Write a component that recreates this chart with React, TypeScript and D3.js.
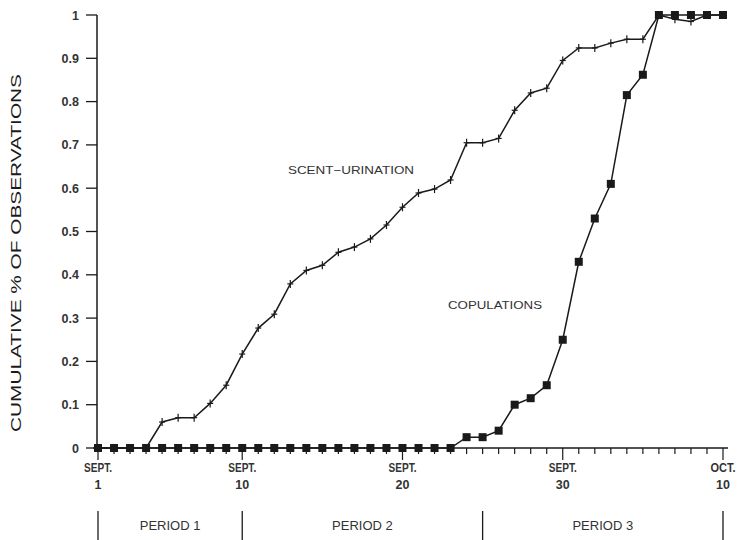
import React from "react";
import * as d3 from "d3";

const days = [1,2,3,4,5,6,7,8,9,10,11,12,13,14,15,16,17,18,19,20,21,22,23,24,25,26,27,28,29,30,31,32,33,34,35,36,37,38,39,40];
const scentUrination = [0,0,0,0,0.06,0.07,0.07,0.103,0.145,0.217,0.277,0.309,0.379,0.41,0.422,0.452,0.464,0.483,0.515,0.556,0.589,0.598,0.619,0.705,0.705,0.715,0.78,0.82,0.831,0.895,0.924,0.924,0.935,0.944,0.944,1.0,0.99,0.985,1.0,1.0];
const copulations = [0,0,0,0,0,0,0,0,0,0,0,0,0,0,0,0,0,0,0,0,0,0,0,0.025,0.025,0.04,0.1,0.115,0.145,0.25,0.43,0.53,0.61,0.815,0.862,1,1,1,1,1];
const yTicks = [0,0.1,0.2,0.3,0.4,0.5,0.6,0.7,0.8,0.9,1];
const yTickLabels = ["0","0.1","0.2","0.3","0.4","0.5","0.6","0.7","0.8","0.9","1"];
const majorDays = [1,10,20,30,40];
const majorLine1 = ["SEPT.","SEPT.","SEPT.","SEPT.","OCT."];
const majorLine2 = ["1","10","20","30","10"];
const periodBounds = [1,10,25,40];
const periodLabels = ["PERIOD 1","PERIOD 2","PERIOD 3"];

const INK = "#1a1a1a";
const FONT = "'Liberation Sans', Arial, sans-serif";

export default function App() {
  const x = d3.scaleLinear().domain([1, 40]).range([98, 723]);
  const y = d3.scaleLinear().domain([0, 1]).range([448, 15]);
  const line = d3.line<number>().x((_, i) => x(days[i])).y((v) => y(v));

  return (
    <svg width={741} height={540} style={{ position: "absolute", left: 0, top: 0, background: "#fff" }}>
      <rect width={741} height={540} fill="#fff" />
      {/* Y axis */}
      <line x1={97} x2={97} y1={y(1)} y2={y(0)} stroke={INK} strokeWidth={1.5} />
      {yTicks.map((t, i) => (
        <g key={"yt" + i}>
          <line x1={86} x2={97} y1={y(t)} y2={y(t)} stroke={INK} strokeWidth={1.3} />
          <text x={79} y={y(t) + 4.5} textAnchor="end" fontFamily={FONT} fontSize={12.5} fontWeight="bold" fill="#333">
            {yTickLabels[i]}
          </text>
        </g>
      ))}
      <text
        transform={`translate(21,253) rotate(-90)`}
        textAnchor="middle"
        fontFamily={FONT}
        fontSize={15}
        fill={INK}
        textLength={358}
        lengthAdjust="spacingAndGlyphs"
      >
        CUMULATIVE % OF OBSERVATIONS
      </text>
      {/* X axis */}
      <line x1={93} x2={728} y1={y(0)} y2={y(0)} stroke={INK} strokeWidth={1.5} />
      {days.map((d) => (
        <line key={"xt" + d} x1={x(d)} x2={x(d)} y1={y(0)} y2={y(0) + (majorDays.includes(d) ? 12 : 6)} stroke={INK} strokeWidth={1.2} />
      ))}
      {majorDays.map((d, i) => (
        <g key={"xl" + d}>
          <text x={x(d)} y={472} textAnchor="middle" fontFamily={FONT} fontSize={12.5} fontWeight="bold" fill="#333" textLength={majorLine1[i].length === 5 ? 28 : 25} lengthAdjust="spacingAndGlyphs">
            {majorLine1[i]}
          </text>
          <text x={x(d)} y={489} textAnchor="middle" fontFamily={FONT} fontSize={12.5} fontWeight="bold" fill="#333">
            {majorLine2[i]}
          </text>
        </g>
      ))}
      {/* Periods */}
      {periodBounds.map((d) => (
        <line key={"pb" + d} x1={x(d)} x2={x(d)} y1={511} y2={540} stroke={INK} strokeWidth={1.3} />
      ))}
      {periodLabels.map((p, i) => (
        <text key={p} x={(x(periodBounds[i]) + x(periodBounds[i + 1])) / 2} y={530} textAnchor="middle" fontFamily={FONT} fontSize={13} fill="#333">
          {p}
        </text>
      ))}
      {/* Scent-urination */}
      <path d={line(scentUrination) || ""} fill="none" stroke={INK} strokeWidth={1.5} />
      {scentUrination.map((v, i) => (
        <g key={"s" + i} stroke={INK} strokeWidth={1.2}>
          <line x1={x(days[i])} x2={x(days[i])} y1={y(v) - 4} y2={y(v) + 4} />
          <line x1={x(days[i]) - 3} x2={x(days[i]) + 3} y1={y(v)} y2={y(v)} />
        </g>
      ))}
      {/* Copulations */}
      <path d={line(copulations) || ""} fill="none" stroke={INK} strokeWidth={1.5} />
      {copulations.map((v, i) => (
        <rect key={"c" + i} x={x(days[i]) - 4} y={y(v) - 4} width={8} height={8} fill={INK} />
      ))}
      <text x={288} y={174} fontFamily={FONT} fontSize={11.5} fill="#333" textLength={126} lengthAdjust="spacingAndGlyphs">
        SCENT−URINATION
      </text>
      <text x={448} y={309} fontFamily={FONT} fontSize={11.5} fill="#333" textLength={94} lengthAdjust="spacingAndGlyphs">
        COPULATIONS
      </text>
    </svg>
  );
}
